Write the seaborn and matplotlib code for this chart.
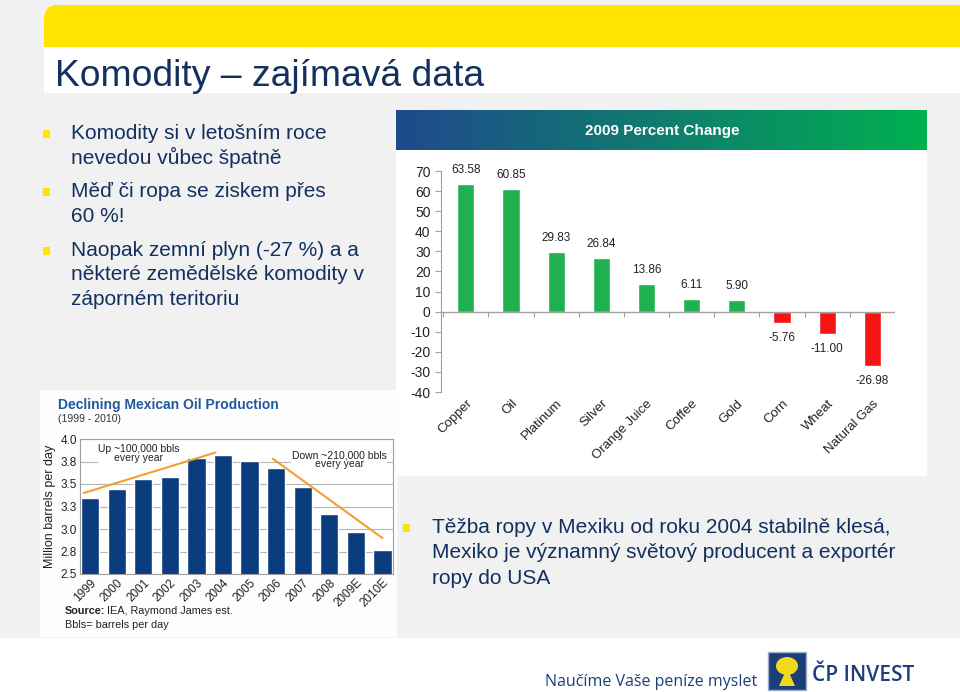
import numpy as np
import pandas as pd
import seaborn as sns
import matplotlib.pyplot as plt
from matplotlib.patches import Rectangle, FancyBboxPatch, Polygon, Ellipse

# Data: 2009 percent change of commodities
commodities = ["Copper", "Oil", "Platinum", "Silver", "Orange Juice",
               "Coffee", "Gold", "Corn", "Wheat", "Natural Gas"]
pct_change = [63.58, 60.85, 29.83, 26.84, 13.86, 6.11, 5.90, -5.76, -11.00, -26.98]

# Data: Mexican oil production (million barrels per day)
years = ["1999", "2000", "2001", "2002", "2003", "2004", "2005",
         "2006", "2007", "2008", "2009E", "2010E"]
production = [3.34, 3.45, 3.56, 3.58, 3.79, 3.82, 3.76, 3.68, 3.47, 3.17, 2.97, 2.77]
mx_ticks = [2.5, 2.75, 3.0, 3.25, 3.5, 3.75, 4.0]
mx_tick_labels = ["2.5", "2.8", "3.0", "3.3", "3.5", "3.8", "4.0"]

# Trend lines drawn over the production chart (category index, value)
up_x, up_y = [-0.24, 4.72], [3.40, 3.85]
down_x, down_y = [6.88, 11.0], [3.78, 2.90]

# Slide texts
left_bullets = [
    ["Komodity si v letošním roce", "nevedou vůbec špatně"],
    ["Měď či ropa se ziskem přes", "60 %!"],
    ["Naopak zemní plyn (-27 %) a a", "některé zemědělské komodity v", "záporném teritoriu"],
]
right_bullet = ["Těžba ropy v Mexiku od roku 2004 stabilně klesá,",
                "Mexiko je významný světový producent a exportér",
                "ropy do USA"]

sns.set_style("white")
plt.rcParams["font.family"] = ["Liberation Sans", "DejaVu Sans"]
plt.rcParams["axes.unicode_minus"] = False
narrow = ["Liberation Sans Narrow", "Liberation Sans", "DejaVu Sans"]

navy = "#13305e"
yellow = "#ffe500"

fig = plt.figure(figsize=(9.6, 6.92), dpi=100)
fig.patch.set_facecolor("#f1f1f1")

# Background layer in pixel coordinates
bg = fig.add_axes([0, 0, 1, 1])
bg.axis("off")

bg.add_patch(FancyBboxPatch((44, 5), 960, 60, boxstyle="round,pad=0,rounding_size=14",
                            fc=yellow, ec="none"))
bg.add_patch(Rectangle((44, 47), 930, 46, fc="white", ec="none"))
bg.text(55, 86, "Komodity – zajímavá data", fontsize=26.8, color=navy, va="baseline")

# footer
bg.add_patch(Rectangle((0, 638), 960, 60, fc="white", ec="none"))
bg.text(545, 686, "Naučíme Vaše peníze myslet", fontsize=11.5, color="#1c3f7a",
        family=["Open Sans", "DejaVu Sans"], va="baseline")
bg.add_patch(Rectangle((768, 652), 38, 38, fc="#1c3f7a", ec="#9fb0c8", lw=1))
bg.add_patch(Ellipse((787, 666), 22, 18, fc="#f2d81c", ec="none"))
bg.add_patch(Polygon([[779, 686], [787, 668], [795, 686]], fc="#f2d81c", ec="none"))
bg.text(812, 681, "ČP INVEST", fontsize=15, color="#1c3f7a", fontweight="semibold",
        family=["Open Sans", "DejaVu Sans"], va="baseline")

# left bullets
line_pitch = 24.5
starts = [139, 197, 256]
for start, lines in zip(starts, left_bullets):
    bg.add_patch(Rectangle((43, start - 9), 7, 7.5, fc=yellow, ec="none"))
    for k, line in enumerate(lines):
        bg.text(71, start + k * line_pitch, line, fontsize=15, color=navy, va="baseline")

# bottom-right bullet
bg.add_patch(Rectangle((403, 524), 7, 7.5, fc=yellow, ec="none"))
for k, line in enumerate(right_bullet):
    bg.text(432, 533 + k * 25.5, line, fontsize=15, color=navy, va="baseline")

# chart backgrounds
bg.add_patch(Rectangle((396, 110), 531, 366, fc="white", ec="none"))
bg.add_patch(Rectangle((40, 390), 357, 247, fc="#fdfdfd", ec="none"))

# gradient header of the commodity chart
c0 = np.array([0x1f, 0x4a, 0x8c]) / 255
c1 = np.array([0x00, 0xb0, 0x50]) / 255
t = np.linspace(0, 1, 256)[None, :, None]
grad = c0 + (c1 - c0) * t
bg.imshow(grad, extent=[396, 927, 150, 110], aspect="auto", interpolation="bilinear", zorder=3)
bg.text(662, 131, "2009 Percent Change", fontsize=11, color="white", fontweight="bold",
        ha="center", va="center", zorder=4)

# Mexican chart titles and notes
bg.text(58, 409, "Declining Mexican Oil Production", fontsize=10, fontweight="bold",
        color="#1f5a9e", va="baseline")
bg.text(58, 422, "(1999 - 2010)", fontsize=7.5, color="#333333", va="baseline")
bg.text(65, 614, "Source:", fontsize=7.8, fontweight="bold", color="#222222", va="baseline")
bg.text(107, 614, "IEA, Raymond James est.", fontsize=7.8, color="#222222", va="baseline")
bg.text(65, 628, "Bbls= barrels per day", fontsize=7.8, color="#222222", va="baseline")

bg.set_xlim(0, 960)
bg.set_ylim(692, 0)

# ---- Commodity percent change chart ----
ax1 = fig.add_axes([441 / 960, 1 - 392 / 692, 454 / 960, 221 / 692])
ax1.patch.set_alpha(0)
df_c = pd.DataFrame({"commodity": commodities, "change": pct_change})
bar_colors = {c: ("#1fb14f" if v >= 0 else "#f51414") for c, v in zip(commodities, pct_change)}
sns.barplot(data=df_c, x="commodity", y="change", hue="commodity", palette=bar_colors,
            legend=False, width=0.38, saturation=1, ax=ax1)
for i, v in enumerate(pct_change):
    if v >= 0:
        ax1.text(i, v + 4, f"{v:.2f}", ha="center", va="bottom", fontsize=8.5, color="#222222")
    else:
        ax1.text(i, v - 4.5, f"{v:.2f}", ha="center", va="top", fontsize=8.5, color="#222222")

ax1.set_ylim(-40, 70)
ax1.set_xlim(-0.55, 9.5)
ax1.set_yticks(range(-40, 71, 10))
ax1.axhline(0, color="#a0a0a0", lw=1)
ax1.vlines(np.arange(-0.5, 10, 1), -2.5, 0, color="#a0a0a0", lw=0.8)
for side in ["top", "right", "bottom"]:
    ax1.spines[side].set_visible(False)
ax1.spines["left"].set_color("#a0a0a0")
ax1.tick_params(axis="y", left=True, length=4, color="#a0a0a0", labelsize=10, labelcolor="#222222")
ax1.tick_params(axis="x", length=0, labelsize=9.5, labelcolor="#222222", pad=4)
ax1.set_xticks(range(len(commodities)))
ax1.set_xticklabels(commodities, rotation=45, ha="right", rotation_mode="anchor")
ax1.set_xlabel("")
ax1.set_ylabel("")

# ---- Mexican oil production chart ----
ax2 = fig.add_axes([79.5 / 960, 1 - 574 / 692, 313.5 / 960, 135 / 692])
ax2.set_facecolor("white")
df_m = pd.DataFrame({"year": years, "production": production})
sns.barplot(data=df_m, x="year", y="production", color="#0b3c7d", width=0.69,
            saturation=1, ax=ax2)
ax2.set_ylim(2.5, 4.0)
ax2.set_xlim(-0.4, 11.4)
ax2.set_axisbelow(True)
ax2.set_yticks(mx_ticks)
ax2.set_yticklabels(mx_tick_labels, family=narrow)
ax2.yaxis.grid(True, color="#b5b5b5", lw=0.8)
for side in ax2.spines.values():
    side.set_color("#a0a0a0")
    side.set_linewidth(0.8)
ax2.tick_params(axis="both", length=0, labelsize=8.5, labelcolor="#222222", pad=2)
ax2.set_xticks(range(len(years)))
ax2.set_xticklabels(years, rotation=45, ha="right", rotation_mode="anchor", family=narrow)
ax2.set_xlabel("")
ax2.set_ylabel("Million barrels per day", fontsize=9, family=narrow, color="#222222", labelpad=3)

ax2.plot(up_x, up_y, color="#f0a030", lw=1.5, clip_on=False)
ax2.plot(down_x, down_y, color="#f0a030", lw=1.5, clip_on=False)
ax2.text(1.83, 3.84, "Up ~100,000 bbls\nevery year", ha="center", va="center", fontsize=7.5,
         family=narrow, color="#222222", linespacing=0.9,
         bbox=dict(fc="white", ec="none", pad=0.3))
ax2.text(9.38, 3.77, "Down ~210,000 bbls\nevery year", ha="center", va="center", fontsize=7.5,
         family=narrow, color="#222222", linespacing=0.9,
         bbox=dict(fc="white", ec="none", pad=0.3))

plt.savefig("out.png", dpi=100)
